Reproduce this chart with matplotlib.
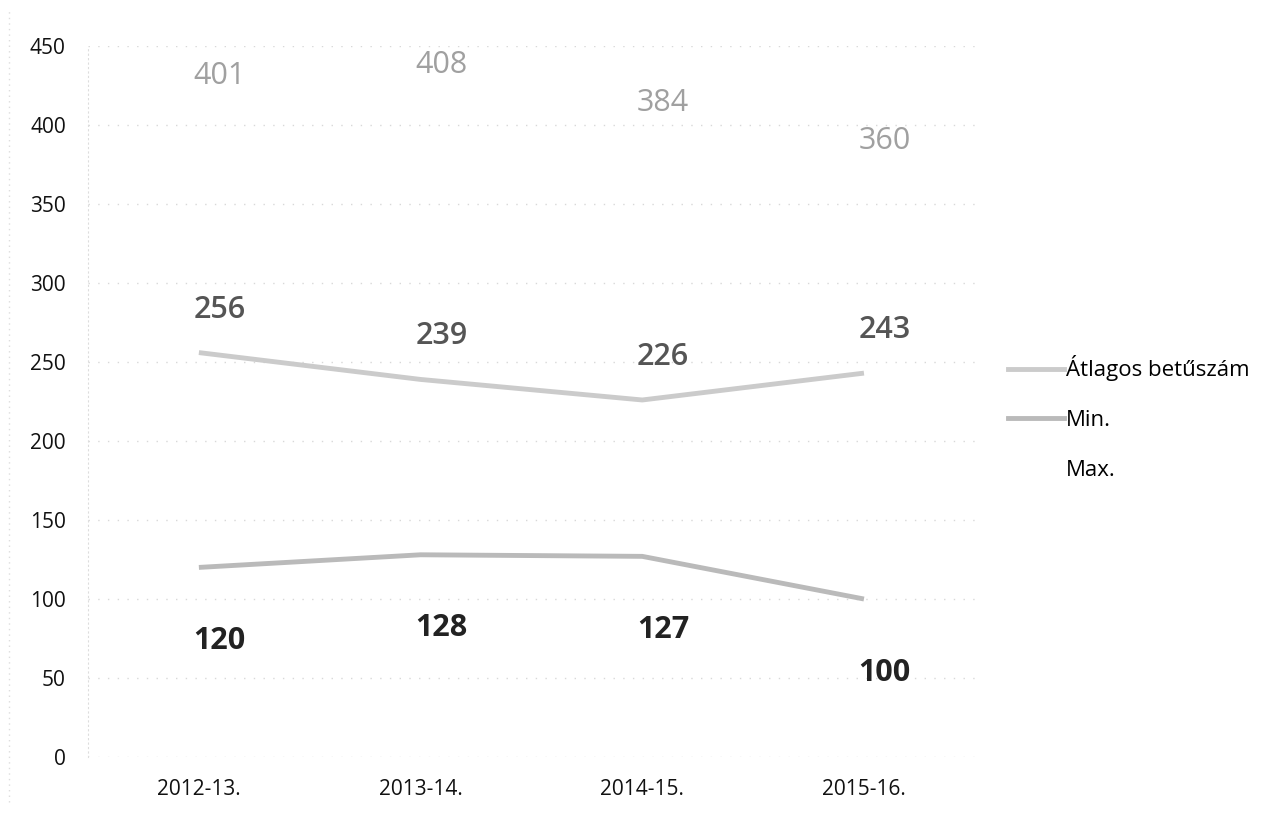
import numpy as np
import matplotlib.pyplot as plt
from matplotlib.lines import Line2D

# Data
years = ['2012-13.', '2013-14.', '2014-15.', '2015-16.']
avg_letters = [256, 239, 226, 243]   # Átlagos betűszám
min_letters = [120, 128, 127, 100]   # Min.
max_letters = [401, 408, 384, 360]   # Max. (no visible line)

plt.rcParams['font.family'] = ['Open Sans', 'DejaVu Sans']

fig = plt.figure(figsize=(12.65, 8.18), dpi=100)
ax = fig.add_axes([0.0696, 0.0746, 0.701, 0.869])

x = np.arange(len(years))

# Lines
ax.plot(x, avg_letters, color='#cbcbcb', linewidth=3.5, solid_capstyle='butt')
ax.plot(x, min_letters, color='#bababa', linewidth=3.5, solid_capstyle='butt')

# Data labels (Excel placed them a little right of the points)
for xi, v in zip(x, max_letters):
    ax.annotate(str(v), (xi, v), xytext=(15, 34), textcoords='offset points',
                ha='center', va='center', fontsize=22, color='#a0a0a0')
for xi, v in zip(x, avg_letters):
    ax.annotate(str(v), (xi, v), xytext=(15, 31), textcoords='offset points',
                ha='center', va='center', fontsize=22, color='#555555',
                fontweight='semibold')
for xi, v in zip(x, min_letters):
    ax.annotate(str(v), (xi, v), xytext=(15, -53), textcoords='offset points',
                ha='center', va='center', fontsize=22, color='#222222',
                fontweight='bold')

ax.set_xlim(-0.5, len(years) - 0.5)
ax.set_ylim(0, 450)
ax.set_yticks(np.arange(0, 451, 50))
ax.set_xticks(x)
ax.set_xticklabels(years)
ax.tick_params(axis='both', length=0, labelsize=15, colors='#111111')
ax.tick_params(axis='x', pad=16)
ax.tick_params(axis='y', pad=16)

ax.grid(axis='y', color='#d8d8d8', linestyle=(0, (1, 6)), linewidth=1)
for s in ['top', 'right', 'bottom']:
    ax.spines[s].set_visible(False)
ax.spines['left'].set_color('#dddddd')
ax.spines['left'].set_linestyle((0, (1, 3)))

# Legend
handles = [Line2D([], [], color='#cbcbcb', lw=3.5),
           Line2D([], [], color='#bababa', lw=3.5),
           Line2D([], [], color='none', lw=3.5)]
fig.legend(handles, ['Átlagos betűszám', 'Min.', 'Max.'],
           loc='upper left', bbox_to_anchor=(0.781, 0.59), frameon=False,
           fontsize=16, handlelength=2.5, handletextpad=0.1, labelspacing=1.3)

# Faint scan frame on the left
fig.add_artist(Line2D([0.007, 0.007], [0.02, 0.99], color='#dddddd',
                      lw=1, linestyle=(0, (1, 3))))

plt.savefig('out.png', dpi=100)
